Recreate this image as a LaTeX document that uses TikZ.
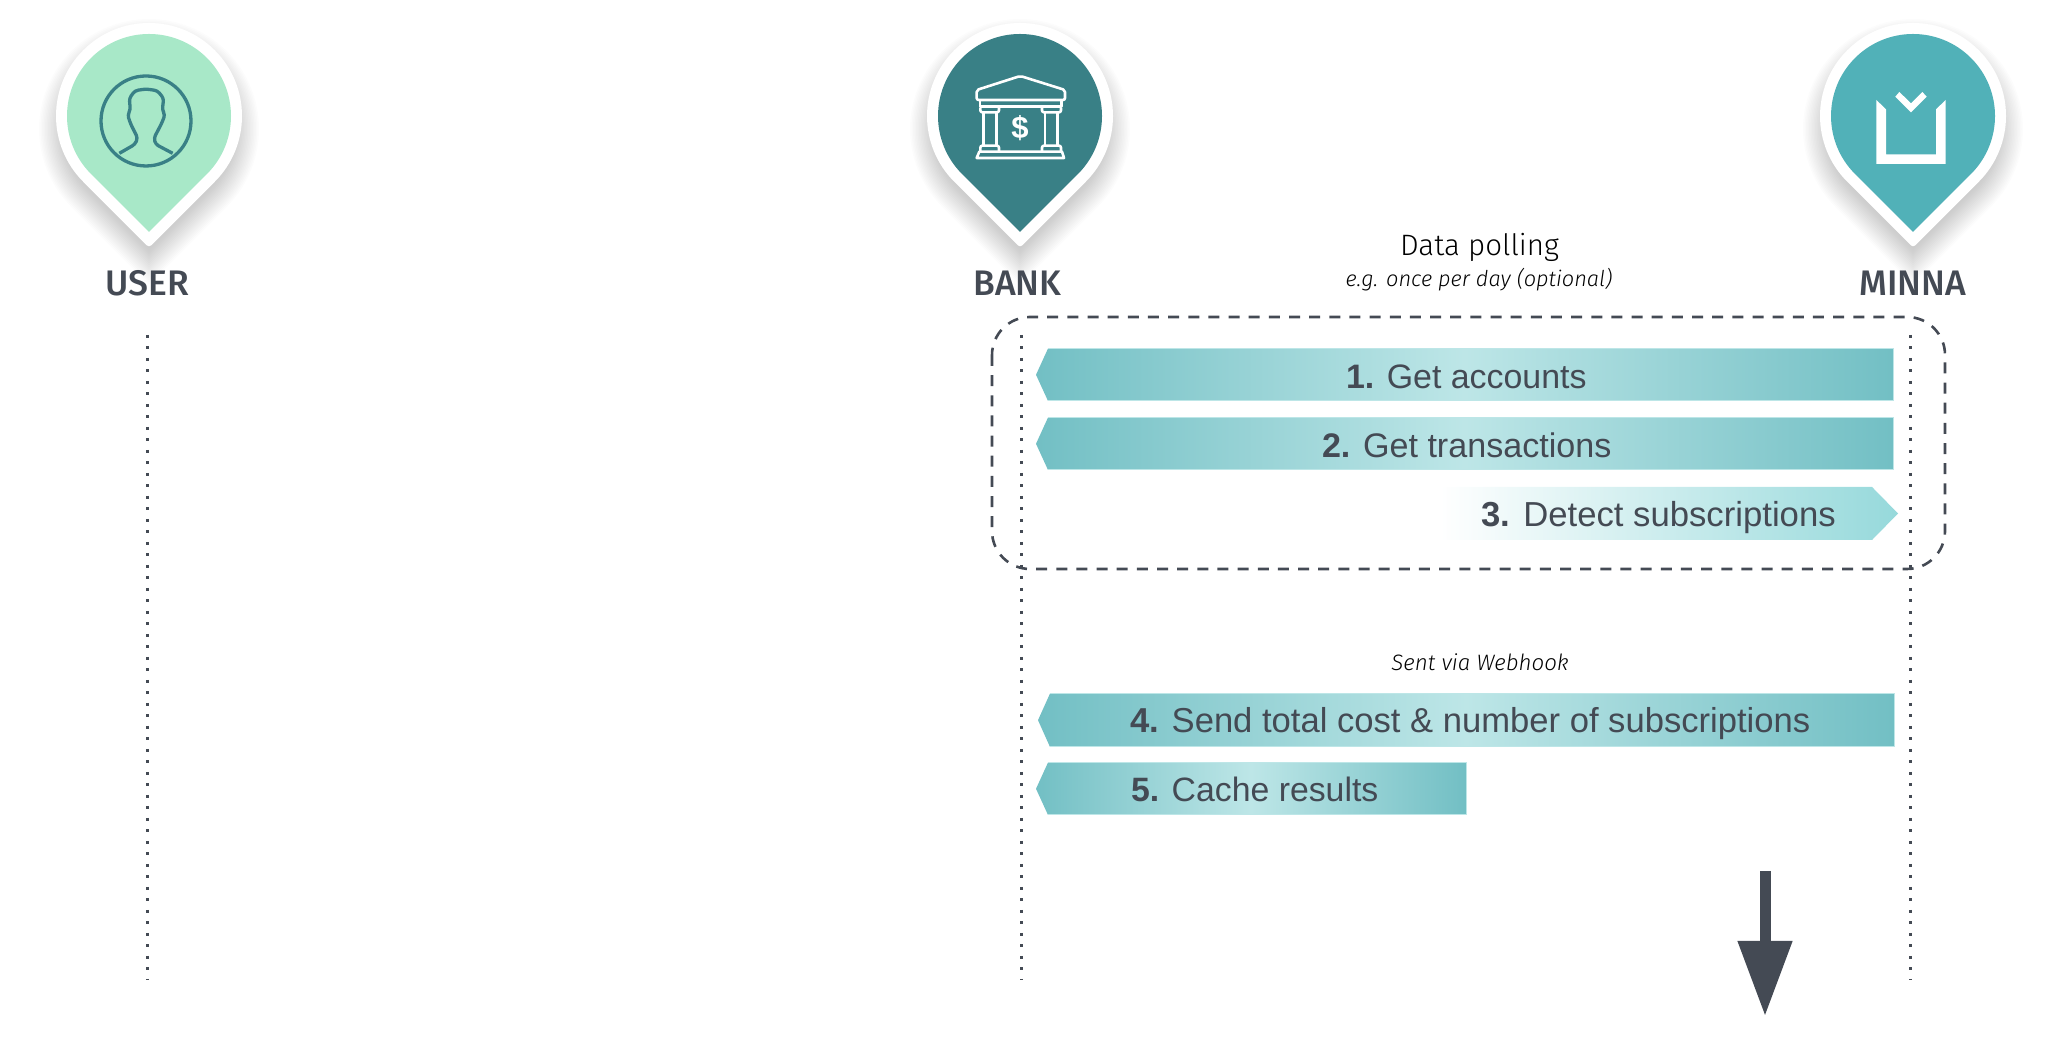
\documentclass[tikz,border=0pt]{standalone}
\usepackage{fontspec}
\setmainfont{Liberation Sans}
\newfontfamily\lightfont[UprightFont=* Light, ItalicFont=* Light Italic]{Fira Sans}
\newfontfamily\medfont[UprightFont=* Medium]{Fira Sans}
\usetikzlibrary{calc,arrows.meta}
\definecolor{ink}{HTML}{444A54}
\definecolor{usergreen}{HTML}{A8E8C8}
\definecolor{bankteal}{HTML}{398086}
\definecolor{minnateal}{HTML}{51B1B8}
\definecolor{barend}{HTML}{72BFC4}
\definecolor{barmid}{HTML}{BDE6E7}
\definecolor{barthree}{HTML}{96D9DB}
\newcommand{\pinpath}[2]{(#1+#2*0.7071,{#2*(-0.7071)+924}) arc[start angle=-45,end angle=225,radius=#2] -- (#1,{924-#2*1.4142}) -- cycle}
\tikzset{
  x=1pt,y=1pt,
  lifeline/.style={ink,line width=3pt,dash pattern=on 3pt off 8.5pt},
  groupbox/.style={ink,line width=2.6pt,rounded corners=38pt,dash pattern=on 11pt off 9.15pt},
  barleft/.style={left color=barend,right color=barend,middle color=barmid},
  baredge/.style={draw=barmid,line width=1pt},
  barthreestyle/.style={left color=white,right color=barthree},
  bartext/.style={anchor=base west,inner sep=0pt,outer sep=0pt,text=ink,font=\fontsize{#1}{40}\selectfont},
  pinlabel/.style={anchor=base,inner sep=0pt,text=ink,font=\medfont\fontsize{35.5}{40}\selectfont},
  note/.style={anchor=base,inner sep=0pt,text=black,font=\lightfont\itshape\fontsize{#1}{26}\selectfont},
  notetitle/.style={anchor=base,inner sep=0pt,text=black,font=\lightfont\fontsize{29.5}{34}\selectfont},
  usericon/.style={draw=bankteal,line width=3.3pt,line join=round},
  bankicon/.style={draw=white,line width=2.6pt,line join=round},
  zoomed/.style={shift={(#1,1040)},x=0.33333pt,y=-0.33333pt},
  downarrow/.style={ink,line width=11pt,-{Triangle[length=75pt,width=52pt]}},
}
\begin{document}
\begin{tikzpicture}
\useasboundingbox (0,0) rectangle (2060,1040);
% lifelines
\coordinate (userTop) at (147.5,705);  \coordinate (userBot) at (147.5,60);
\coordinate (bankTop) at (1021.5,705); \coordinate (bankBot) at (1021.5,60);
\coordinate (minnaTop) at (1910.5,705); \coordinate (minnaBot) at (1910.5,60);
\draw[lifeline] (userTop) -- (userBot);
\draw[lifeline] (bankTop) -- (bankBot);
\draw[lifeline] (minnaTop) -- (minnaBot);
% pins: shadows then bodies
\foreach \cx/\fillc in {149/usergreen,1020/bankteal,1913/minnateal}{
  \begin{scope}[yshift=-13pt]
    \foreach \r in {110,108.5,...,82}{
      \fill[black,opacity=0.012] \pinpath{\cx}{\r};
    }
  \end{scope}
  \draw[white,fill=white,line width=6pt,line join=round] \pinpath{\cx}{90};
  \fill[\fillc] \pinpath{\cx}{82};
}
% user icon
\begin{scope}[zoomed=0]
\draw[usericon] (438,228) to[out=0,in=90] (573,363) to[out=-90,in=0] (438,498) to[out=180,in=-90] (303,363) to[out=90,in=180] cycle;
\draw[usericon,rounded corners=3pt] (358,460) -- (405,433) -- (413,414) -- (392,372) -- (383,345) -- (391,330) -- (388,295) -- (405,272) -- (438,267) -- (472,272) -- (491,295) -- (487,330) -- (495,345) -- (484,372) -- (462,414) -- (467,433) -- (518,460);
\end{scope}
% bank icon
\begin{scope}[zoomed=900]
\draw[bankicon,rounded corners=2pt] (230,270) -- (361,228) -- (495,270) -- (495,300) -- (230,300) -- cycle;
\draw[bankicon] (240,303) -- (240,320) -- (484,320) -- (484,303);
\draw[bankicon,rounded corners=2pt] (241,323) -- (241,337) -- (297,337) -- (297,323);
\draw[bankicon,rounded corners=2pt] (426,323) -- (426,337) -- (483,337) -- (483,323);
\draw[bankicon] (251,337) -- (251,437) (289,337) -- (289,437) (435,337) -- (435,437) (473,337) -- (473,437);
\draw[bankicon,rounded corners=2pt] (241,453) -- (241,437) -- (297,437) -- (297,453);
\draw[bankicon,rounded corners=2pt] (426,453) -- (426,437) -- (483,437) -- (483,453);
\draw[bankicon] (238,455) -- (486,455) -- (492,474) -- (230,474) -- cycle;
\end{scope}
\node[inner sep=0pt,text=white,font=\bfseries\fontsize{31}{33}\selectfont] (dollar) at (1020,912) {\$};
% minna icon
\begin{scope}[zoomed=1780]
\fill[white] (289,300) -- (318,328) -- (318,463) -- (468,463) -- (468,328) -- (497,300) -- (497,492) -- (289,492) -- cycle;
\fill[white] (346,290) -- (358,276) -- (393,310) -- (427,276) -- (440,290) -- (393,337) -- cycle;
\end{scope}
% pin labels
\node[pinlabel] (userlabel) at (147,744) {USER};
\node[pinlabel] (banklabel) at (1017.5,744) {BANK};
\node[pinlabel] (minnalabel) at (1913,744) {MINNA};
% notes
\node[notetitle] (polling) at (1479.5,784.5) {Data polling};
\node[note=21.8] (pollingnote) at (1479,753) {e.g. once per day (optional)};
\node[note=22.3] (webhook) at (1480,369) {Sent via Webhook};
% dashed group
\draw[groupbox] (992,723) rectangle (1945,471);
% bars
\shade[barleft] (1048,691.5) -- (1893,691.5) -- (1893,639) -- (1048,639) -- (1036,665.2) -- cycle;
\draw[baredge] (1048,691.5) -- (1893,691.5) -- (1893,639) -- (1048,639);
\shade[barleft] (1048,622.5) -- (1893,622.5) -- (1893,570) -- (1048,570) -- (1036,596.2) -- cycle;
\draw[baredge] (1048,622.5) -- (1893,622.5) -- (1893,570) -- (1048,570);
\shade[barthreestyle] (1440,553) -- (1872,553) -- (1898,526.5) -- (1872,500) -- (1440,500) -- cycle;
\shade[barleft] (1050,346.5) -- (1894,346.5) -- (1894,293) -- (1050,293) -- (1038,319.8) -- cycle;
\draw[baredge] (1050,346.5) -- (1894,346.5) -- (1894,293) -- (1050,293);
\shade[barleft] (1048,277.5) -- (1466,277.5) -- (1466,225) -- (1048,225) -- (1036,251.2) -- cycle;
\draw[baredge] (1048,277.5) -- (1466,277.5) -- (1466,225) -- (1048,225);
% bar texts
\node[bartext=33.9] (step1) at (1346,651.5) {\textbf{1.} Get accounts};
\node[bartext=34.1] (step2) at (1322,582.5) {\textbf{2.} Get transactions};
\node[bartext=34.7] (step3) at (1481.5,513) {\textbf{3.} Detect subscriptions};
\node[bartext=34.6] (step4) at (1130,307) {\textbf{4.} Send total cost \& number of subscriptions};
\node[bartext=33.8] (step5) at (1131,238) {\textbf{5.} Cache results};
% big arrow
\coordinate (arrowTop) at (1765,169);
\coordinate (arrowTip) at (1765,24);
\draw[downarrow] (arrowTop) -- (arrowTip);
\end{tikzpicture}
\end{document}
